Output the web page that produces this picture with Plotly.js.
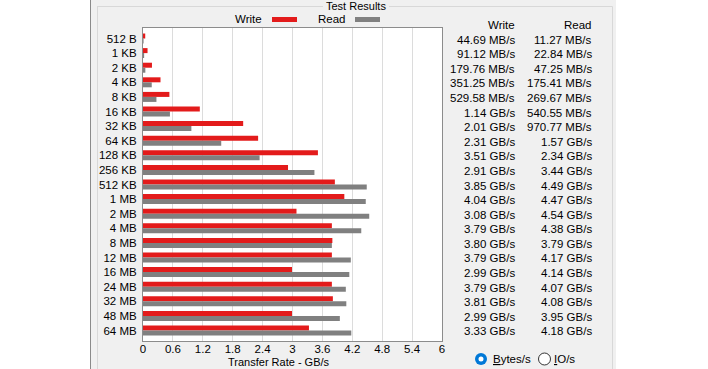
<!DOCTYPE html>
<html>
<head>
<meta charset="utf-8">
<script src="https://cdn.plot.ly/plotly-3.0.1.min.js"></script>
<style>html,body{margin:0;padding:0;background:#fff;}#chart{width:708px;height:369px;}</style>
</head>
<body>
<div id="chart"></div>
<script>
// ---- data ----
var sizes = ["512 B","1 KB","2 KB","4 KB","8 KB","16 KB","32 KB","64 KB","128 KB","256 KB","512 KB",
             "1 MB","2 MB","4 MB","8 MB","12 MB","16 MB","24 MB","32 MB","48 MB","64 MB"];
// transfer rates in GB/s
var writeRates = [0.04469,0.09112,0.17976,0.35125,0.52958,1.14,2.01,2.31,3.51,2.91,3.85,
                  4.04,3.08,3.79,3.80,3.79,2.99,3.79,3.81,2.99,3.33];
var readRates  = [0.01127,0.02284,0.04725,0.17541,0.26967,0.54055,0.97077,1.57,2.34,3.44,4.49,
                  4.47,4.54,4.38,3.79,4.17,4.14,4.07,4.08,3.95,4.18];
var xTickVals = [0,0.6,1.2,1.8,2.4,3,3.6,4.2,4.8,5.4,6];
var xTickText = ["0","0.6","1.2","1.8","2.4","3","3.6","4.2","4.8","5.4","6"];

// ---- geometry helpers (pixel -> paper) ----
var L = 143, R = 442, T = 28, B = 341, W = 708, H = 369;
function px(x){ return (x - L) / (R - L); }
function py(y){ return (B - y) / (B - T); }
function fmt(v){ return v < 1 ? (v*1000).toFixed(2) + " MB/s" : v.toFixed(2) + " GB/s"; }

var FONT = "Liberation Sans, Arial, sans-serif";
var RED = "#e31b1b", GRAY = "#808080";

var traces = [
  {type:"bar", orientation:"h", name:"Write", y:sizes, x:writeRates, marker:{color:RED}, hoverinfo:"none"},
  {type:"bar", orientation:"h", name:"Read",  y:sizes, x:readRates,  marker:{color:GRAY}, hoverinfo:"none"}
];

var shapes = [
  // gray dialog panel
  {type:"rect", xref:"paper", yref:"paper", x0:px(91), x1:px(616), y0:py(H+2), y1:py(-2), fillcolor:"#f0f0f0", line:{width:0}, layer:"below"},
  // left dark border
  {type:"line", xref:"paper", yref:"paper", x0:px(90.5), x1:px(90.5), y0:py(H+2), y1:py(-2), line:{color:"#8a8a8a", width:1}, layer:"below"},
  // group box
  {type:"line", xref:"paper", yref:"paper", x0:px(97), x1:px(323), y0:py(6.5), y1:py(6.5), line:{color:"#d8d8d8", width:1}, layer:"below"},
  {type:"line", xref:"paper", yref:"paper", x0:px(389), x1:px(612.5), y0:py(6.5), y1:py(6.5), line:{color:"#d8d8d8", width:1}, layer:"below"},
  {type:"line", xref:"paper", yref:"paper", x0:px(97.5), x1:px(97.5), y0:py(6.5), y1:py(H+2), line:{color:"#d8d8d8", width:1}, layer:"below"},
  {type:"line", xref:"paper", yref:"paper", x0:px(612.5), x1:px(612.5), y0:py(6.5), y1:py(H+2), line:{color:"#d8d8d8", width:1}, layer:"below"},
  // white plot area
  {type:"rect", xref:"paper", yref:"paper", x0:0, x1:1, y0:0, y1:1, fillcolor:"#ffffff", line:{width:0}, layer:"below"},
  // legend swatches
  {type:"rect", xref:"paper", yref:"paper", x0:px(272), x1:px(297), y0:py(22), y1:py(17), fillcolor:RED, line:{width:0}},
  {type:"rect", xref:"paper", yref:"paper", x0:px(355), x1:px(380), y0:py(22), y1:py(17), fillcolor:GRAY, line:{width:0}},
  // radio buttons
  {type:"circle", xref:"paper", yref:"paper", x0:px(475), x1:px(487), y0:py(365), y1:py(353), fillcolor:"#0078d7", line:{width:0}},
  {type:"circle", xref:"paper", yref:"paper", x0:px(478.5), x1:px(483.5), y0:py(361.5), y1:py(356.5), fillcolor:"#ffffff", line:{width:0}},
  {type:"circle", xref:"paper", yref:"paper", x0:px(538.5), x1:px(550.5), y0:py(365), y1:py(353), fillcolor:"#ffffff", line:{color:"#333333", width:1}}
];

var ann = [];
function txt(x, y, s, anchor, size){
  ann.push({xref:"paper", yref:"paper", x:px(x), y:py(y), text:s, showarrow:false,
            xanchor:anchor, yanchor:"middle", font:{family:FONT, size:size||11.5, color:"#000"}});
}
txt(356, 6, "Test Results", "center", 11);
txt(264, 19.5, "Write", "right");
txt(348, 19.5, "Read", "right");
txt(278.5, 362, "Transfer Rate - GB/s", "center", 11);
txt(517, 25, "Write", "right");
txt(594, 25, "Read", "right");
txt(491, 359, "<span style=\"text-decoration:underline\">B</span>ytes/s", "left");
txt(552, 359, "<span style=\"text-decoration:underline\">I</span>O/s", "left");
for (var i = 0; i < sizes.length; i++){
  ann.push({xref:"paper", yref:"y", x:px(517), y:sizes[i], yshift:-1, text:fmt(writeRates[i]), showarrow:false,
            xanchor:"right", yanchor:"middle", font:{family:FONT, size:11.5, color:"#000"}});
  ann.push({xref:"paper", yref:"y", x:px(594), y:sizes[i], yshift:-1, text:fmt(readRates[i]), showarrow:false,
            xanchor:"right", yanchor:"middle", font:{family:FONT, size:11.5, color:"#000"}});
}

var layout = {
  width: W, height: H,
  margin: {l:L, r:W-R, t:T, b:H-B, pad:0},
  paper_bgcolor: "#ffffff",
  plot_bgcolor: "rgba(0,0,0,0)",
  showlegend: false,
  barmode: "group",
  bargap: 0.315,
  bargroupgap: 0,
  font: {family: FONT, size: 11.5, color: "#000"},
  xaxis: {
    range: [0, 6], tickvals: xTickVals, ticktext: xTickText,
    showgrid: true, gridcolor: "#dcdcdc", gridwidth: 1, zeroline: false,
    showline: true, mirror: true, linecolor: "#8c8c8c", linewidth: 1,
    ticks: "", ticklabelstandoff: -3, tickfont: {family: FONT, size: 11.5, color: "#000"}, fixedrange: true
  },
  yaxis: {
    type: "category", categoryorder: "array", categoryarray: sizes,
    range: [20.72, -0.72], showgrid: false, zeroline: false,
    showline: true, mirror: true, linecolor: "#8c8c8c", linewidth: 1,
    ticks: "", ticklabelstandoff: 3, tickfont: {family: FONT, size: 11.5, color: "#000"}, fixedrange: true
  },
  shapes: shapes,
  annotations: ann
};

Plotly.newPlot("chart", traces, layout, {staticPlot: true, displayModeBar: false});
</script>
</body>
</html>
